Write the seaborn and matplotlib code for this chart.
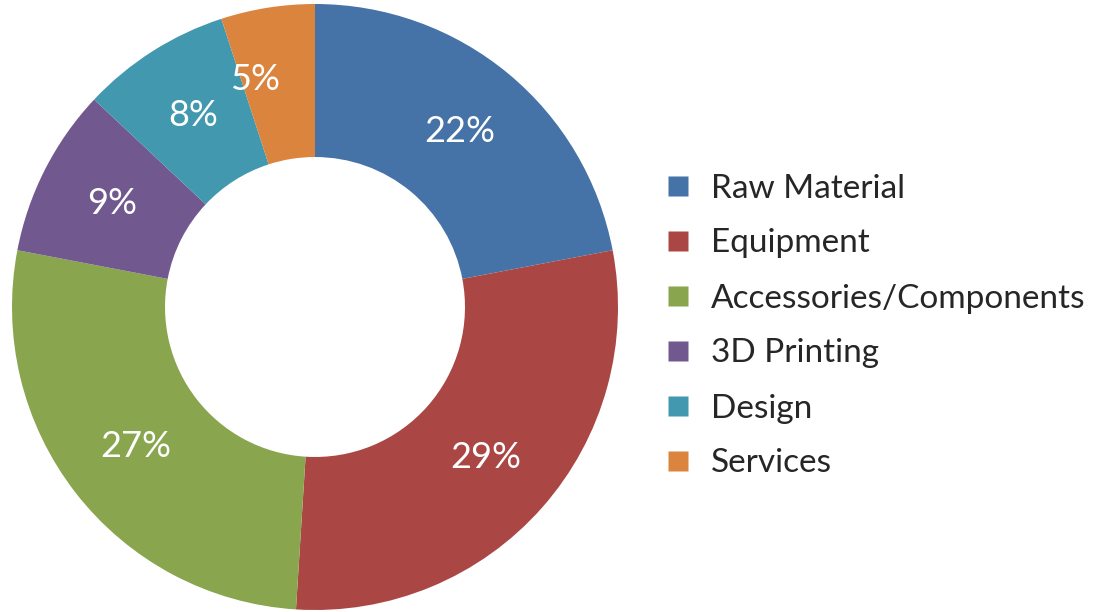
import matplotlib
matplotlib.use("Agg")
import matplotlib.pyplot as plt
from matplotlib.lines import Line2D
import seaborn as sns

# Cost breakdown by category (percent of total)
categories = ["Raw Material", "Equipment", "Accessories/Components",
              "3D Printing", "Design", "Services"]
shares = [22, 29, 27, 9, 8, 5]
colors = ["#4572A7", "#AA4643", "#89A54E", "#71588F", "#4198AF", "#DB843D"]

sns.set_theme(style="white")
plt.rcParams["font.family"] = ["Lato", "DejaVu Sans"]

W, H = 1107, 612
fig = plt.figure(figsize=(W / 100, H / 100), dpi=100)

# donut centred at (315, 307) px with outer radius 303 px
cx, cy, r = 315, 307, 303
ax = fig.add_axes([(cx - r) / W, (H - cy - r) / H, 2 * r / W, 2 * r / H])
wedges, texts, autotexts = ax.pie(
    shares,
    colors=colors,
    startangle=90,
    counterclock=False,
    radius=1,
    autopct="%d%%",
    pctdistance=0.75,
    wedgeprops=dict(width=0.505, edgecolor="none"),
    textprops=dict(color="white", fontsize=26),
)
# the narrow last slice gets its label nudged away from its neighbour
x5, y5 = autotexts[-1].get_position()
autotexts[-1].set_position((x5 - 0.08, y5 + 0.01))
ax.set_xlim(-1, 1)
ax.set_ylim(-1, 1)
ax.set_aspect("equal")
ax.axis("off")

handles = [Line2D([0], [0], marker="s", linestyle="none", markersize=15,
                  markerfacecolor=c, markeredgecolor="none") for c in colors]
fig.legend(handles, categories, loc="center left",
           bbox_to_anchor=(631 / W, 1 - 326 / H), frameon=False,
           fontsize=24, handletextpad=0.5, labelspacing=0.75,
           handlelength=1.0)

fig.savefig("out.png", dpi=100, facecolor="white")
